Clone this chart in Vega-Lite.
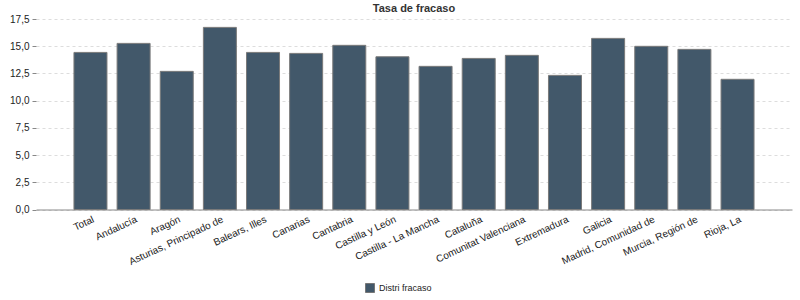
{
  "$schema": "https://vega.github.io/schema/vega-lite/v6.json",
  "autosize": "none",
  "width": 756,
  "height": 190.5,
  "padding": {"left": 36, "top": 19, "right": 8, "bottom": 90.5},
  "background": "white",
  "title": {"text": "Tasa de fracaso", "font": "Liberation Sans", "fontSize": 11, "fontWeight": "bold", "color": "#333333", "anchor": "middle", "offset": 0, "dy": 0},
  "data": {"values": [
    {"region": "Total", "value": 14.43, "serie": "Distri fracaso"},
    {"region": "Andalucía", "value": 15.26, "serie": "Distri fracaso"},
    {"region": "Aragón", "value": 12.69, "serie": "Distri fracaso"},
    {"region": "Asturias, Principado de", "value": 16.73, "serie": "Distri fracaso"},
    {"region": "Balears, Illes", "value": 14.43, "serie": "Distri fracaso"},
    {"region": "Canarias", "value": 14.34, "serie": "Distri fracaso"},
    {"region": "Cantabria", "value": 15.08, "serie": "Distri fracaso"},
    {"region": "Castilla y León", "value": 14.03, "serie": "Distri fracaso"},
    {"region": "Castilla - La Mancha", "value": 13.15, "serie": "Distri fracaso"},
    {"region": "Cataluña", "value": 13.88, "serie": "Distri fracaso"},
    {"region": "Comunitat Valenciana", "value": 14.16, "serie": "Distri fracaso"},
    {"region": "Extremadura", "value": 12.32, "serie": "Distri fracaso"},
    {"region": "Galicia", "value": 15.72, "serie": "Distri fracaso"},
    {"region": "Madrid, Comunidad de", "value": 14.99, "serie": "Distri fracaso"},
    {"region": "Murcia, Región de", "value": 14.71, "serie": "Distri fracaso"},
    {"region": "Rioja, La", "value": 11.96, "serie": "Distri fracaso"}
  ]},
  "mark": {"type": "bar", "stroke": "#7a7a7a", "strokeWidth": 1},
  "encoding": {
    "x": {
      "field": "region", "type": "nominal", "sort": null,
      "scale": {"paddingInner": 0.235, "paddingOuter": 0.88},
      "axis": {"title": null, "labelAngle": -25, "labelAlign": "right", "labelBaseline": "middle", "labelPadding": 9, "ticks": false, "domainColor": "#888888", "labelFont": "Liberation Sans", "labelFontSize": 10, "labelColor": "#222222", "labelOverlap": false, "grid": false, "labelOffset": 3}
    },
    "y": {
      "field": "value", "type": "quantitative",
      "scale": {"domain": [0, 17.5], "nice": false},
      "axis": {"title": null, "values": [0, 2.5, 5, 7.5, 10, 12.5, 15, 17.5], "labelExpr": "replace(format(datum.value, '.1f'), '.', ',')", "domain": false, "tickColor": "#888888", "tickSize": 4, "labelPadding": 3, "labelFont": "Liberation Sans", "labelFontSize": 10, "labelColor": "#222222", "gridColor": "#dddddd", "gridDash": [3, 3]}
    },
    "color": {
      "field": "serie", "type": "nominal",
      "scale": {"range": ["#42586a"]},
      "legend": {"title": null, "orient": "none", "legendX": 329, "legendY": 264, "symbolType": "square", "symbolSize": 81, "symbolStrokeColor": "#777777", "symbolStrokeWidth": 1, "labelFont": "Liberation Sans", "labelFontSize": 9, "labelColor": "#222222", "labelOffset": 4}
    }
  },
  "config": {"view": {"stroke": null}}
}
